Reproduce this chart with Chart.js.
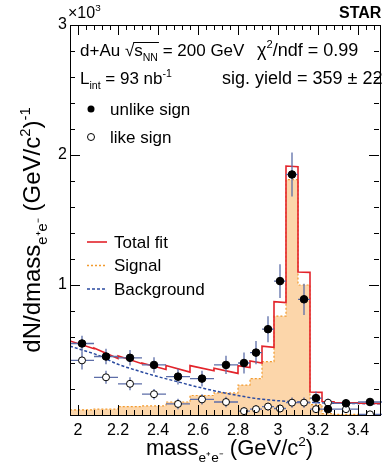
<!DOCTYPE html>
<html>
<head>
<meta charset="utf-8">
<script src="https://cdn.jsdelivr.net/npm/chart.js@4.4.0/dist/chart.umd.min.js"></script>
<style>
html, body { margin: 0; padding: 0; background: #fff; }
</style>
</head>
<body>
<canvas id="myChart" width="385" height="463"></canvas>
<script>
// data points: bin centres and half widths (GeV/c^2)
var massBins = [2.02, 2.14, 2.26, 2.38, 2.50, 2.62, 2.74, 2.83, 2.89, 2.95, 3.01, 3.07, 3.13, 3.19, 3.25, 3.34, 3.46];
var binHalf  = [0.06, 0.06, 0.06, 0.06, 0.06, 0.06, 0.06, 0.03, 0.03, 0.03, 0.03, 0.03, 0.03, 0.03, 0.03, 0.06, 0.06];
// unlike sign (x10^3)
var unlikeVals = [0.55, 0.45, 0.44, 0.385, 0.295, 0.28, 0.385, 0.40, 0.48, 0.66, 1.03, 1.85, 0.89, 0.13, 0.045, 0.09, 0.10];
var unlikeErr  = [0.06, 0.06, 0.06, 0.06, 0.06, 0.06, 0.07, 0.08, 0.09, 0.10, 0.13, 0.17, 0.12, 0.05, 0.03, 0.03, 0.03];
// like sign
var likeVals = [0.42, 0.29, 0.24, 0.16, 0.085, 0.12, 0.10, 0.03, 0.045, 0.065, 0.05, 0.095, 0.095, 0.045, 0.095, 0.045, 0.005];
var likeErr  = [0.07, 0.05, 0.05, 0.04, 0.04, 0.04, 0.04, 0.03, 0.03, 0.03, 0.03, 0.04, 0.04, 0.03, 0.03, 0.02, 0.02];
// signal template (histogram)
var sigEdges = [1.96, 2.08, 2.20, 2.32, 2.44, 2.56, 2.68, 2.80, 2.86, 2.92, 2.98, 3.04, 3.10, 3.16, 3.22, 3.28, 3.40, 3.51];
var sigVals  = [0.04, 0.045, 0.065, 0.07, 0.10, 0.15, 0.17, 0.23, 0.28, 0.41, 0.76, 1.81, 1.00, 0.08, 0.01, 0.005, 0.003];
// background curve
var bkgMass = [1.96, 2.0, 2.1, 2.2, 2.3, 2.4, 2.5, 2.6, 2.7, 2.8, 2.9, 3.0, 3.1, 3.2, 3.3, 3.4, 3.51];
var bkgVals = [0.53, 0.51, 0.46, 0.39, 0.34, 0.295, 0.255, 0.215, 0.18, 0.15, 0.125, 0.11, 0.10, 0.095, 0.09, 0.088, 0.086];
// total fit line
var fitMass = [1.96, 2.08, 2.08, 2.20, 2.20, 2.32, 2.32, 2.44, 2.44, 2.56, 2.56, 2.68, 2.68, 2.80, 2.80, 2.86, 2.86, 2.92, 2.92, 2.98, 2.98, 3.04, 3.04, 3.10, 3.10, 3.16, 3.16, 3.22, 3.22, 3.28, 3.28, 3.40, 3.40, 3.51];
var fitVals = [0.57, 0.51, 0.515, 0.435, 0.455, 0.395, 0.40, 0.35, 0.38, 0.33, 0.38, 0.34, 0.36, 0.32, 0.38, 0.365, 0.415, 0.40, 0.53, 0.52, 0.872, 0.865, 1.915, 1.91, 1.10, 1.097, 0.177, 0.174, 0.104, 0.101, 0.096, 0.093, 0.091, 0.089];

var xTickLabels = [2, 2.2, 2.4, 2.6, 2.8, 3, 3.2, 3.4];
var yTickLabels = [1, 2, 3];

var FONT = '"Liberation Sans", Arial, Helvetica, sans-serif';
var errColor = '#5d6ea8';
var redColor = '#e3242b';
var orangeColor = '#f29a2e';
var blueColor = '#2a4aa0';

// histogram -> step points
var sigPts = [];
for (var i = 0; i < sigVals.length; i++) {
    sigPts.push({x: sigEdges[i], y: sigVals[i]});
    sigPts.push({x: sigEdges[i + 1], y: sigVals[i]});
}

function pts(xs, ys) {
    return xs.map(function(x, i) { return {x: x, y: ys[i]}; });
}

// text with sub/superscripts: parts = [[text, mode]], mode 0 normal, 1 sub, 2 sup
function richWidth(ctx, parts, size) {
    var w = 0;
    parts.forEach(function(p) {
        ctx.font = (p[1] ? size * 0.62 : size) + 'px ' + FONT;
        w += ctx.measureText(p[0]).width;
    });
    return w;
}
function drawRich(ctx, parts, x, y, size) {
    var cx = x;
    parts.forEach(function(p) {
        var fs = p[1] ? size * 0.62 : size;
        var dy = p[1] == 1 ? size * 0.3 : (p[1] == 2 ? -size * 0.42 : 0);
        ctx.font = fs + 'px ' + FONT;
        ctx.fillText(p[0], cx, y + dy);
        cx += ctx.measureText(p[0]).width;
    });
    return cx;
}

var decor = {
    id: 'decor',
    beforeDatasetDraw: function(chart, args) {
        // error bars under the markers
        var set = null;
        if (args.index == 0) set = [unlikeVals, unlikeErr];
        if (args.index == 1) set = [likeVals, likeErr];
        if (!set) return;
        var ctx = chart.ctx, xs = chart.scales.x, ys = chart.scales.y;
        ctx.save();
        ctx.strokeStyle = errColor;
        ctx.lineWidth = 1.3;
        ctx.beginPath();
        for (var i = 0; i < massBins.length; i++) {
            var px = xs.getPixelForValue(massBins[i]);
            var py = ys.getPixelForValue(set[0][i]);
            ctx.moveTo(xs.getPixelForValue(massBins[i] - binHalf[i]), py);
            ctx.lineTo(xs.getPixelForValue(massBins[i] + binHalf[i]), py);
            ctx.moveTo(px, ys.getPixelForValue(Math.max(0, set[0][i] - set[1][i])));
            ctx.lineTo(px, ys.getPixelForValue(set[0][i] + set[1][i]));
        }
        ctx.stroke();
        ctx.restore();
    },
    afterDraw: function(chart) {
        var ctx = chart.ctx, a = chart.chartArea, xs = chart.scales.x, ys = chart.scales.y;
        ctx.save();
        // frame
        ctx.strokeStyle = '#000';
        ctx.lineWidth = 1;
        ctx.strokeRect(a.left + 0.5, a.top + 0.5, a.right - a.left, a.bottom - a.top);
        // ticks on all four sides
        ctx.beginPath();
        for (var k = 0; ; k++) {
            var v = 1.96 + 0.04 * k;
            if (v > 3.5101) break;
            var major = xTickLabels.some(function(t) { return Math.abs(t - v) < 0.001; });
            var len = major ? 10 : 5;
            var px = Math.round(xs.getPixelForValue(v)) + 0.5;
            ctx.moveTo(px, a.bottom); ctx.lineTo(px, a.bottom - len);
            ctx.moveTo(px, a.top); ctx.lineTo(px, a.top + len);
        }
        for (var j = 1; j < 15; j++) {
            var ylen = (j % 5 == 0) ? 10 : 5;
            var py = Math.round(ys.getPixelForValue(0.2 * j)) + 0.5;
            ctx.moveTo(a.left, py); ctx.lineTo(a.left + ylen, py);
            ctx.moveTo(a.right - 1, py); ctx.lineTo(a.right - 1 - ylen, py);
        }
        ctx.stroke();

        ctx.fillStyle = '#000';
        ctx.textBaseline = 'alphabetic';
        ctx.textAlign = 'left';
        // exponent and experiment tag
        drawRich(ctx, [['\u00d710', 0], ['3', 2]], 68, 18, 16);
        ctx.font = 'bold 16px ' + FONT;
        ctx.fillText('STAR', 339, 18);

        // info text
        var fs = 17;
        var x0 = drawRich(ctx, [['d+Au ', 0], ['\u221a', 0]], 80, 56, fs);
        var x1 = drawRich(ctx, [['s', 0], ['NN', 1]], x0, 56, fs);
        ctx.lineWidth = 1;
        ctx.beginPath();
        ctx.moveTo(x0 - 1, 42.5); ctx.lineTo(x1 + 1, 42.5);
        ctx.stroke();
        drawRich(ctx, [[' = 200 GeV', 0]], x1, 56, fs);
        drawRich(ctx, [['\u03c7', 0], ['2', 2], ['/ndf = 0.99', 0]], 257, 56, 18);
        drawRich(ctx, [['L', 0], ['int', 1], [' = 93 nb', 0], ['-1', 2]], 80, 84, fs);
        drawRich(ctx, [['sig. yield = 359 \u00b1 22', 0]], 222, 84, 18);

        // legend
        ctx.beginPath();
        ctx.arc(91, 109, 3.5, 0, Math.PI * 2);
        ctx.fill();
        ctx.beginPath();
        ctx.arc(91, 137, 3.5, 0, Math.PI * 2);
        ctx.fillStyle = '#fff';
        ctx.fill();
        ctx.strokeStyle = '#000';
        ctx.stroke();
        ctx.fillStyle = '#000';
        drawRich(ctx, [['unlike sign', 0]], 110, 115, fs);
        drawRich(ctx, [['like sign', 0]], 110, 143, fs);

        ctx.lineWidth = 1.6;
        ctx.strokeStyle = redColor;
        ctx.beginPath(); ctx.moveTo(87, 242); ctx.lineTo(107, 242); ctx.stroke();
        ctx.lineWidth = 1.5;
        ctx.strokeStyle = orangeColor;
        ctx.setLineDash([2, 2]);
        ctx.beginPath(); ctx.moveTo(87, 265.5); ctx.lineTo(107, 265.5); ctx.stroke();
        ctx.strokeStyle = blueColor;
        ctx.setLineDash([3, 2]);
        ctx.beginPath(); ctx.moveTo(87, 289); ctx.lineTo(107, 289); ctx.stroke();
        ctx.setLineDash([]);
        drawRich(ctx, [['Total fit', 0]], 114, 248, fs);
        drawRich(ctx, [['Signal', 0]], 114, 271, fs);
        drawRich(ctx, [['Background', 0]], 114, 295, fs);

        // axis titles
        var xt = [['mass', 0], ['e\u207ae\u207b', 1], [' (GeV/c', 0], ['2', 2], [')', 0]];
        drawRich(ctx, xt, 146, 455, 22);
        var yt = [['dN/dmass', 0], ['e\u207ae\u207b', 1], [' (GeV/c', 0], ['2', 2], [')', 0], ['-1', 2]];
        ctx.translate(40, 230);
        ctx.rotate(-Math.PI / 2);
        var w = richWidth(ctx, yt, 24);
        drawRich(ctx, yt, -w / 2, 0, 24);
        ctx.restore();
    }
};

var ctx = document.getElementById('myChart').getContext('2d');
var myChart = new Chart(ctx, {
    type: 'scatter',
    data: {
        datasets: [{
            label: 'unlike sign',
            data: pts(massBins, unlikeVals),
            pointRadius: 3.8,
            pointBackgroundColor: '#000',
            pointBorderColor: '#000',
            pointBorderWidth: 1
        }, {
            label: 'like sign',
            data: pts(massBins, likeVals),
            pointRadius: 3.5,
            pointBackgroundColor: '#fff',
            pointBorderColor: '#000',
            pointBorderWidth: 1
        }, {
            type: 'line',
            label: 'Total fit',
            data: pts(fitMass, fitVals),
            borderColor: redColor,
            borderWidth: 1.6,
            pointRadius: 0,
            fill: false,
            tension: 0
        }, {
            type: 'line',
            label: 'Background',
            data: pts(bkgMass, bkgVals),
            borderColor: blueColor,
            borderWidth: 1.5,
            borderDash: [3, 2],
            pointRadius: 0,
            fill: false,
            cubicInterpolationMode: 'monotone'
        }, {
            type: 'line',
            label: 'Signal',
            data: sigPts,
            borderColor: orangeColor,
            borderWidth: 1.2,
            borderDash: [2, 2],
            backgroundColor: '#fcd6aa',
            pointRadius: 0,
            fill: 'origin',
            tension: 0
        }]
    },
    options: {
        responsive: false,
        animation: false,
        devicePixelRatio: 1,
        layout: { padding: { left: 0, right: 0, top: 25, bottom: 0 } },
        plugins: { legend: { display: false }, tooltip: { enabled: false } },
        scales: {
            x: {
                type: 'linear', min: 1.96, max: 3.51,
                grid: { display: false, drawTicks: false },
                border: { display: false },
                afterBuildTicks: function(s) { s.ticks = xTickLabels.map(function(v) { return {value: v}; }); },
                afterFit: function(s) { s.height = 48; },
                ticks: {
                    padding: 6, color: '#000', maxRotation: 0, autoSkip: false,
                    font: { family: FONT, size: 16 },
                    callback: function(v) { return String(Math.round(v * 10) / 10); }
                }
            },
            y: {
                min: 0, max: 3,
                grid: { display: false, drawTicks: false },
                border: { display: false },
                afterBuildTicks: function(s) { s.ticks = yTickLabels.map(function(v) { return {value: v}; }); },
                afterFit: function(s) { s.width = 70; },
                ticks: {
                    padding: 3, color: '#000', autoSkip: false,
                    font: { family: FONT, size: 16 },
                    callback: function(v) { return String(v); }
                }
            }
        }
    },
    plugins: [decor]
});
</script>
</body>
</html>
